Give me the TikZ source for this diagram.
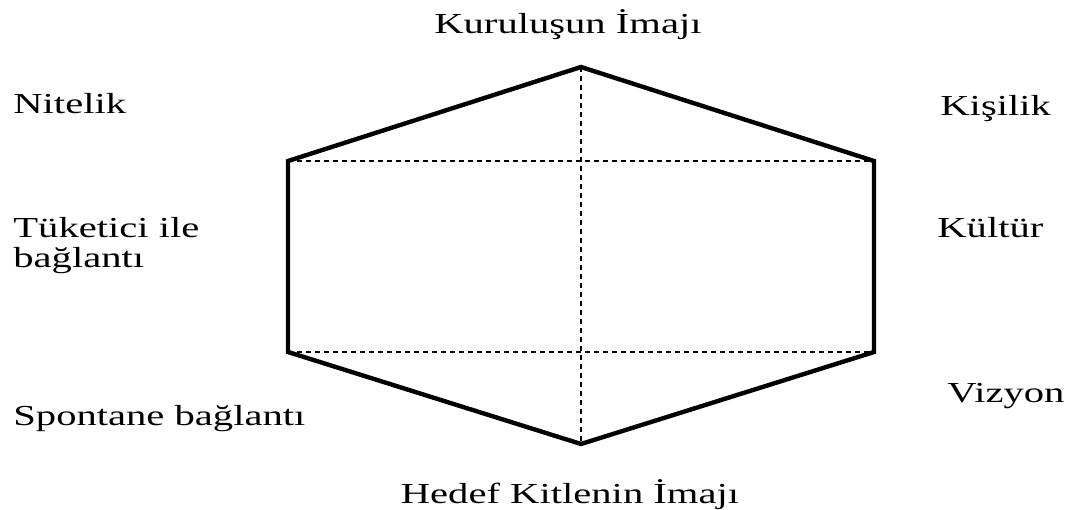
\documentclass[tikz,border=0pt]{standalone}
\usepackage{fontspec}
\setmainfont[FakeStretch=1.4]{Liberation Serif}
\usepackage{tikz}
\usetikzlibrary{positioning}

\begin{document}
\begin{tikzpicture}[
    x=0.5pt, y=-0.5pt,
    label/.style={inner sep=0pt,font=\fontsize{14.5}{15}\selectfont,align=left},
    edge/.style={line width=2.2pt,line join=miter},
    axis/.style={line width=0.7pt,dash pattern=on 2.5pt off 2pt}
]
\useasboundingbox (0,0) rectangle (1070,509);

% hexagon corners
\coordinate (top) at (581,67);
\coordinate (ul) at (288,161);
\coordinate (ur) at (874,161);
\coordinate (ll) at (288,352);
\coordinate (lr) at (874,352);
\coordinate (bot) at (581,444);

\draw[axis] (ul) -- (ur);
\draw[axis] (ll) -- (lr);
\draw[axis] (top) -- (bot);
\draw[edge] (top) -- (ur) -- (lr) -- (bot) -- (ll) -- (ul) -- cycle;

% labels
\node[label,anchor=base] (kurum) at (568,33) {Kuruluşun İmajı};
\node[label,anchor=base] (hedef) at (570,503) {Hedef Kitlenin İmajı};
\node[label,anchor=base west] (nitelik) at (13,113) {Nitelik};
\node[label,anchor=base west] (tuketici) at (13,267) {Tüketici ile\\bağlantı};
\node[label,anchor=base west] (spontane) at (13,425) {Spontane bağlantı};
\node[label,anchor=base west] (kisilik) at (940,115) {Kişilik};
\node[label,anchor=base west] (kultur) at (937,237) {Kültür};
\node[label,anchor=base west] (vizyon) at (947,402) {Vizyon};

\end{tikzpicture}
\end{document}
